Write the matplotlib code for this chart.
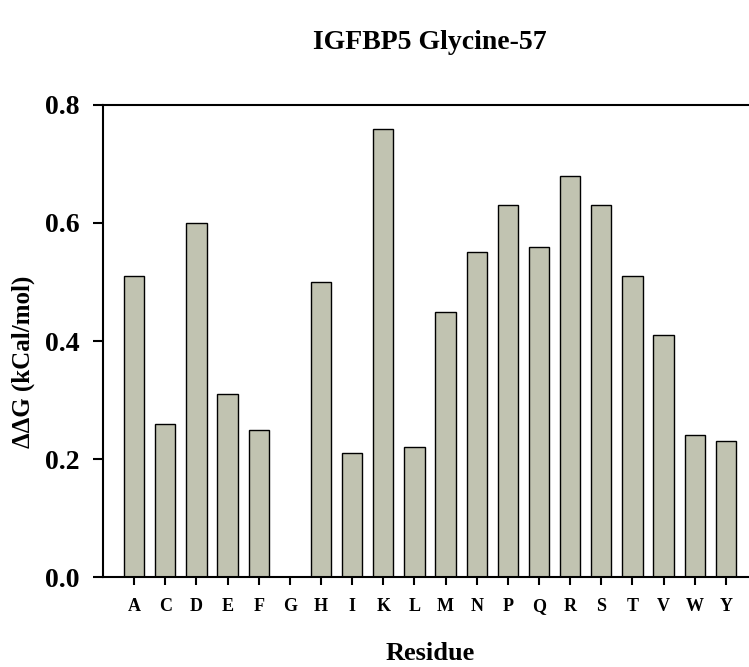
import matplotlib.pyplot as plt

residues = ['A', 'C', 'D', 'E', 'F', 'G', 'H', 'I', 'K', 'L',
            'M', 'N', 'P', 'Q', 'R', 'S', 'T', 'V', 'W', 'Y']
ddg = [0.51, 0.26, 0.60, 0.31, 0.25, 0.0, 0.50, 0.21, 0.76, 0.22,
       0.45, 0.55, 0.63, 0.56, 0.68, 0.63, 0.51, 0.41, 0.24, 0.23]
yticks = [0.0, 0.2, 0.4, 0.6, 0.8]

plt.rcParams['font.family'] = ['Liberation Serif', 'DejaVu Serif']
plt.rcParams['font.weight'] = 'bold'

fig = plt.figure(figsize=(7.49, 6.67), dpi=100)
ax = fig.add_axes([0.1375, 0.1349, 0.8732, 0.7077])

x = list(range(len(residues)))
ax.bar(x, ddg, width=0.65, color='#c1c3b1', edgecolor='black', linewidth=1.0)

ax.set_xlim(-1, 20)
ax.set_ylim(0, 0.8)
ax.set_xticks(x)
ax.set_xticklabels(residues, fontsize=13, fontweight='bold')
ax.set_yticks(yticks)
ax.set_yticklabels(['%.1f' % v for v in yticks], fontsize=20, fontweight='bold')
ax.tick_params(axis='x', direction='out', length=6, width=1.5, pad=9)
ax.tick_params(axis='y', direction='out', length=7, width=1.5, pad=10)

for s in ['left', 'bottom', 'top']:
    ax.spines[s].set_linewidth(1.5)
ax.spines['right'].set_visible(False)

ax.set_ylabel('ΔΔG (kCal/mol)', fontsize=18, fontweight='bold', va='center')
ax.yaxis.set_label_coords(-0.122, 0.455)
ax.set_xlabel('Residue', fontsize=19, fontweight='bold', va='center')
ax.xaxis.set_label_coords(0.5, -0.163)

fig.text(0.574, 0.937, 'IGFBP5 Glycine-57', fontsize=20, fontweight='bold',
         ha='center', va='center')

fig.savefig('out.png', dpi=100)
